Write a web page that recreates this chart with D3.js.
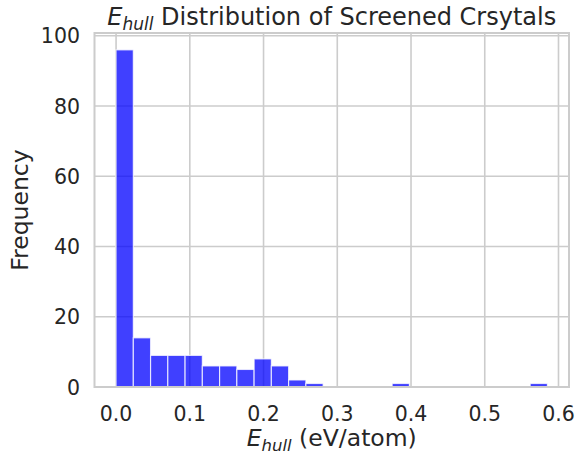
<!DOCTYPE html>
<html>
<head>
<meta charset="utf-8">
<script src="https://cdn.jsdelivr.net/npm/d3@7"></script>
<style>
  body { margin: 0; background: #fff; }
  text { font-family: "DejaVu Sans", sans-serif; fill: #262626; }
</style>
</head>
<body>
<script>
const width = 576;
const height = 452;

// Histogram data: 25 equal bins over the data range
const dataMin = 0.0;
const dataMax = 0.585;
const binCounts = [96, 14, 9, 9, 9, 6, 6, 5, 8, 6, 2, 1, 0, 0, 0, 0, 1, 0, 0, 0, 0, 0, 0, 0, 1];
const xTicks = [0.0, 0.1, 0.2, 0.3, 0.4, 0.5, 0.6];
const yTicks = [0, 20, 40, 60, 80, 100];

const margin = { top: 33, right: 7, bottom: 65, left: 94.5 };

const svg = d3.select("body").append("svg").attr("width", width).attr("height", height);

const binWidth = (dataMax - dataMin) / binCounts.length;
const bins = binCounts.map((c, i) => ({ x0: dataMin + i * binWidth, x1: dataMin + (i + 1) * binWidth, count: c }));

// matplotlib style 5% margins on x, 5% headroom on y
const pad = (dataMax - dataMin) * 0.05;
const xScale = d3.scaleLinear()
  .domain([dataMin - pad, dataMax + pad])
  .range([margin.left, width - margin.right]);

const yScale = d3.scaleLinear()
  .domain([0, d3.max(binCounts) * 1.05])
  .range([height - margin.bottom, margin.top]);

// grid
svg.append("g")
  .selectAll("line")
  .data(xTicks)
  .join("line")
  .attr("x1", (d) => xScale(d)).attr("x2", (d) => xScale(d))
  .attr("y1", margin.top).attr("y2", height - margin.bottom)
  .attr("stroke", "#cccccc").attr("stroke-width", 1.6);

svg.append("g")
  .selectAll("line")
  .data(yTicks)
  .join("line")
  .attr("x1", margin.left).attr("x2", width - margin.right)
  .attr("y1", (d) => yScale(d)).attr("y2", (d) => yScale(d))
  .attr("stroke", "#cccccc").attr("stroke-width", 1.6);

// bars
svg.append("g")
  .selectAll("rect")
  .data(bins.filter((d) => d.count > 0))
  .join("rect")
  .attr("x", (d) => xScale(d.x0))
  .attr("width", (d) => xScale(d.x1) - xScale(d.x0))
  .attr("y", (d) => yScale(d.count))
  .attr("height", (d) => yScale(0) - yScale(d.count))
  .attr("fill", "blue")
  .attr("fill-opacity", 0.75)
  .attr("stroke", "white")
  .attr("stroke-opacity", 0.75)
  .attr("stroke-width", 1.2);

// spines
svg.append("rect")
  .attr("x", margin.left).attr("y", margin.top)
  .attr("width", width - margin.right - margin.left)
  .attr("height", height - margin.bottom - margin.top)
  .attr("fill", "none").attr("stroke", "#cccccc").attr("stroke-width", 2);

// tick labels
svg.append("g")
  .selectAll("text")
  .data(xTicks)
  .join("text")
  .attr("x", (d) => xScale(d))
  .attr("y", 421)
  .attr("text-anchor", "middle")
  .attr("font-size", 20.5)
  .text((d) => d3.format(".1f")(d));

svg.append("g")
  .selectAll("text")
  .data(yTicks)
  .join("text")
  .attr("x", 80)
  .attr("y", (d) => yScale(d) + 7.5)
  .attr("text-anchor", "end")
  .attr("font-size", 20.5)
  .text((d) => d);

// axis labels
const xLabel = svg.append("text")
  .attr("x", (margin.left + width - margin.right) / 2)
  .attr("y", 446)
  .attr("text-anchor", "middle")
  .attr("font-size", 23.5);
xLabel.append("tspan").attr("font-style", "italic").text("E");
xLabel.append("tspan").attr("font-style", "italic").attr("font-size", 16.5).attr("dy", 4.5).text("hull");
xLabel.append("tspan").attr("dy", -4.5).text(" (eV/atom)");

svg.append("text")
  .attr("transform", `translate(28,${(margin.top + height - margin.bottom) / 2}) rotate(-90)`)
  .attr("text-anchor", "middle")
  .attr("font-size", 23.5)
  .text("Frequency");

// title
const title = svg.append("text")
  .attr("x", (margin.left + width - margin.right) / 2)
  .attr("y", 25)
  .attr("text-anchor", "middle")
  .attr("font-size", 24);
title.append("tspan").attr("font-style", "italic").text("E");
title.append("tspan").attr("font-style", "italic").attr("font-size", 17).attr("dy", 4.5).text("hull");
title.append("tspan").attr("dy", -4.5).text(" Distribution of Screened Crsytals");
</script>
</body>
</html>
